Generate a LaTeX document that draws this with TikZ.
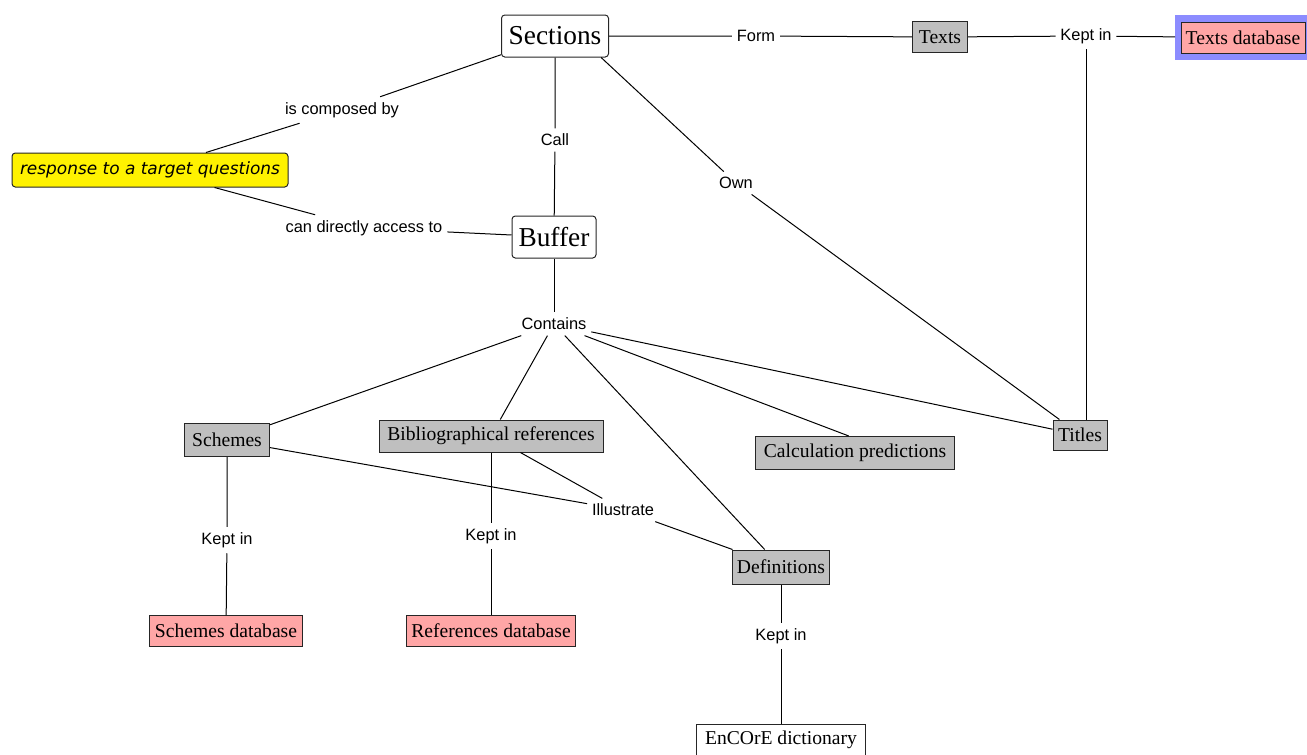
\documentclass[tikz,border=0pt]{standalone}
\usepackage{fontspec}
\setmainfont{Liberation Serif}
\newfontfamily\lblfont{Liberation Sans}
\newfontfamily\respfont{DejaVu Sans}
\begin{document}
\begin{tikzpicture}[x=0.75pt,y=-0.75pt,
  wh/.style 2 args={minimum width=#1*0.75pt, minimum height=#2*0.75pt},
  base/.style={draw=black!85, line width=0.75pt, inner sep=1pt, font=\fontsize{14.7}{17}\selectfont},
  big/.style={base, fill=white, rounded corners=2.5pt, font=\fontsize{20.5}{24}\selectfont},
  concept/.style={base, fill=black!25},
  store/.style={base, fill=red!35},
  plain/.style={base, fill=white},
  highlight/.style={fill=blue!45, inner sep=0pt, outer sep=0pt},
  resp/.style={base, fill=yellow, rounded corners=2.5pt, font=\respfont\itshape\fontsize{12.7}{15}\selectfont},
  lbl/.style={fill=white, inner xsep=3.5pt, inner ysep=4pt, font=\lblfont\fontsize{12.3}{14}\selectfont},
  conn/.style={draw=black, line width=0.75pt}]
\useasboundingbox (0,0) rectangle (1307,754);
% highlight behind Texts database
\node[highlight, wh={132}{45}] (tdbframe) at (1241,37.5) {};
% boxes
\node[big, wh={107}{42}] (sections) at (555,36) {Sections};
\node[big, wh={84}{42}] (buffer) at (554,237) {Buffer};
\node[concept, wh={55}{31}] (texts) at (940,37) {Texts};
\node[store, wh={124}{31}] (textsdb) at (1243,37.5) {Texts database};
\node[resp, wh={276}{34}] (resp) at (150,170) {response to a target questions};
\node[concept, wh={85}{33}] (schemes) at (227,440) {Schemes};
\node[concept, wh={224}{32}] (biblio) at (491,436) {Bibliographical references};
\node[concept, wh={199}{33}] (calc) at (855,453) {Calculation predictions};
\node[concept, wh={54}{30}] (titles) at (1080,435) {Titles};
\node[concept, wh={97}{34}] (defs) at (781,567) {Definitions};
\node[store, wh={153}{31}] (schemesdb) at (226,631) {Schemes database};
\node[store, wh={169}{31}] (refsdb) at (491,631) {References database};
\node[plain, wh={169}{32}] (encore) at (781,740) {EnCOrE dictionary};
% labels
\node[lbl] (form) at (756,36) {Form};
\node[lbl] (keptT) at (1086,36) {Kept in};
\node[lbl] (compby) at (342,110) {is composed by};
\node[lbl] (call) at (555,140) {Call};
\node[lbl] (own) at (736,183) {Own};
\node[lbl] (access) at (364,228) {can directly access to};
\node[lbl] (contains) at (554,324) {Contains};
\node[lbl] (illus) at (623,510) {Illustrate};
\node[lbl] (keptS) at (227,540) {Kept in};
\node[lbl] (keptB) at (491,536) {Kept in};
\node[lbl] (keptD) at (781,636) {Kept in};
% connectors
\draw[conn] (sections) -- (form) -- (texts);
\draw[conn] (texts) -- (keptT) -- (tdbframe);
\draw[conn] (keptT) -- (keptT |- titles.north);
\draw[conn] (sections) -- (compby) -- (resp);
\draw[conn] (resp) -- (access) -- (buffer);
\draw[conn] (sections) -- (call) -- (buffer);
\draw[conn] (sections.-25) -- (own) -- (titles.143);
\draw[conn] (buffer) -- (contains);
\draw[conn] (contains) -- (schemes);
\draw[conn] (contains) -- (biblio);
\draw[conn] (contains) -- (defs);
\draw[conn] (contains) -- (calc.110);
\draw[conn] (contains) -- (titles);
\draw[conn] (schemes) -- (illus);
\draw[conn] (biblio) -- (illus);
\draw[conn] (illus) -- (defs);
\draw[conn] (schemes) -- (keptS) -- (schemesdb);
\draw[conn] (biblio) -- (keptB) -- (refsdb);
\draw[conn] (defs) -- (keptD) -- (encore);
\end{tikzpicture}
\end{document}
